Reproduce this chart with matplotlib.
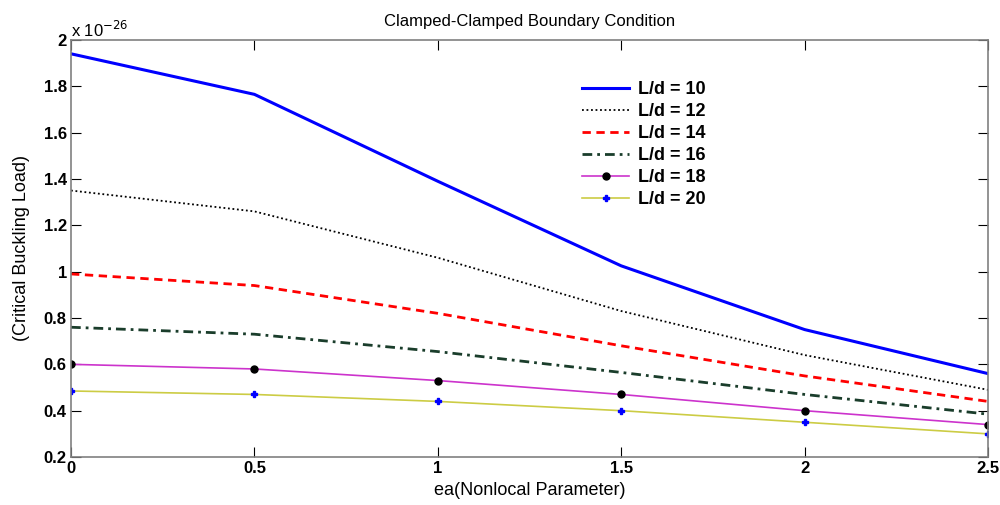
import numpy as np
import matplotlib
matplotlib.use('Agg')
import matplotlib.pyplot as plt

plt.rcParams['font.family'] = ['Liberation Sans', 'DejaVu Sans']

# nonlocal parameter ea and critical buckling load (x 1e-26)
ea = [0, 0.5, 1.0, 1.5, 2.0, 2.5]
load_10 = [1.94, 1.765, 1.39, 1.025, 0.75, 0.56]
load_12 = [1.35, 1.26, 1.06, 0.83, 0.64, 0.49]
load_14 = [0.99, 0.94, 0.82, 0.68, 0.55, 0.44]
load_16 = [0.76, 0.73, 0.655, 0.565, 0.47, 0.385]
load_18 = [0.60, 0.58, 0.53, 0.47, 0.40, 0.34]
load_20 = [0.485, 0.47, 0.44, 0.40, 0.35, 0.30]
labels = ['L/d = 10', 'L/d = 12', 'L/d = 14', 'L/d = 16', 'L/d = 18', 'L/d = 20']
yticks = [0.2, 0.4, 0.6, 0.8, 1, 1.2, 1.4, 1.6, 1.8, 2]
ytick_labels = ['0.2', '0.4', '0.6', '0.8', '1', '1.2', '1.4', '1.6', '1.8', '2']
xticks = [0, 0.5, 1, 1.5, 2, 2.5]
xtick_labels = ['0', '0.5', '1', '1.5', '2', '2.5']

fig = plt.figure(figsize=(10, 5.05), dpi=100)
ax = fig.add_axes([0.071, 0.095, 0.917, 0.826])

ax.plot(ea, load_10, color='#0000ff', linewidth=2.2, label=labels[0])
ax.plot(ea, load_12, color='black', linestyle=(0, (1, 1.5)), linewidth=1.3, label=labels[1])
ax.plot(ea, load_14, color='#ff0000', linestyle=(0, (3, 2)), linewidth=2.0, label=labels[2])
ax.plot(ea, load_16, color='#1a3d2b', linestyle=(0, (3.5, 1.8, 1, 1.8)), linewidth=2.0, label=labels[3])
ax.plot(ea, load_18, color='#cc33cc', linewidth=1.2, marker='o', markersize=5,
        markerfacecolor='black', markeredgecolor='black', label=labels[4])
ax.plot(ea, load_20, color='#cccc44', linewidth=1.2, marker='P', markersize=4.5,
        markerfacecolor='#0000ff', markeredgecolor='#0000ff', label=labels[5])

ax.set_xlim(0, 2.5)
ax.set_ylim(0.2, 2)
ax.set_xticks(xticks)
ax.set_xticklabels(xtick_labels, fontweight='bold', fontsize=12)
ax.set_yticks(yticks)
ax.set_yticklabels(ytick_labels, fontweight='bold', fontsize=12)
ax.tick_params(direction='in', length=7, width=0.8, top=True, right=True, pad=3)
for s in ax.spines.values():
    s.set_color('#808080')
    s.set_linewidth(1.2)

ax.text(0.0, 1.0, r'x 10$^{-26}$', transform=ax.transAxes, fontsize=12,
        va='bottom', ha='left')
ax.set_title('Clamped-Clamped Boundary Condition', fontsize=12, pad=10)
ax.set_xlabel('ea(Nonlocal Parameter)', fontsize=13, labelpad=4)
ax.set_ylabel('(Critical Buckling Load)', fontsize=13, labelpad=10)

leg = ax.legend(loc='upper left', bbox_to_anchor=(0.54, 0.94), frameon=False,
                prop={'weight': 'bold', 'size': 13}, handlelength=2.6,
                labelspacing=0.28, handletextpad=0.5)

plt.savefig('out.png')
